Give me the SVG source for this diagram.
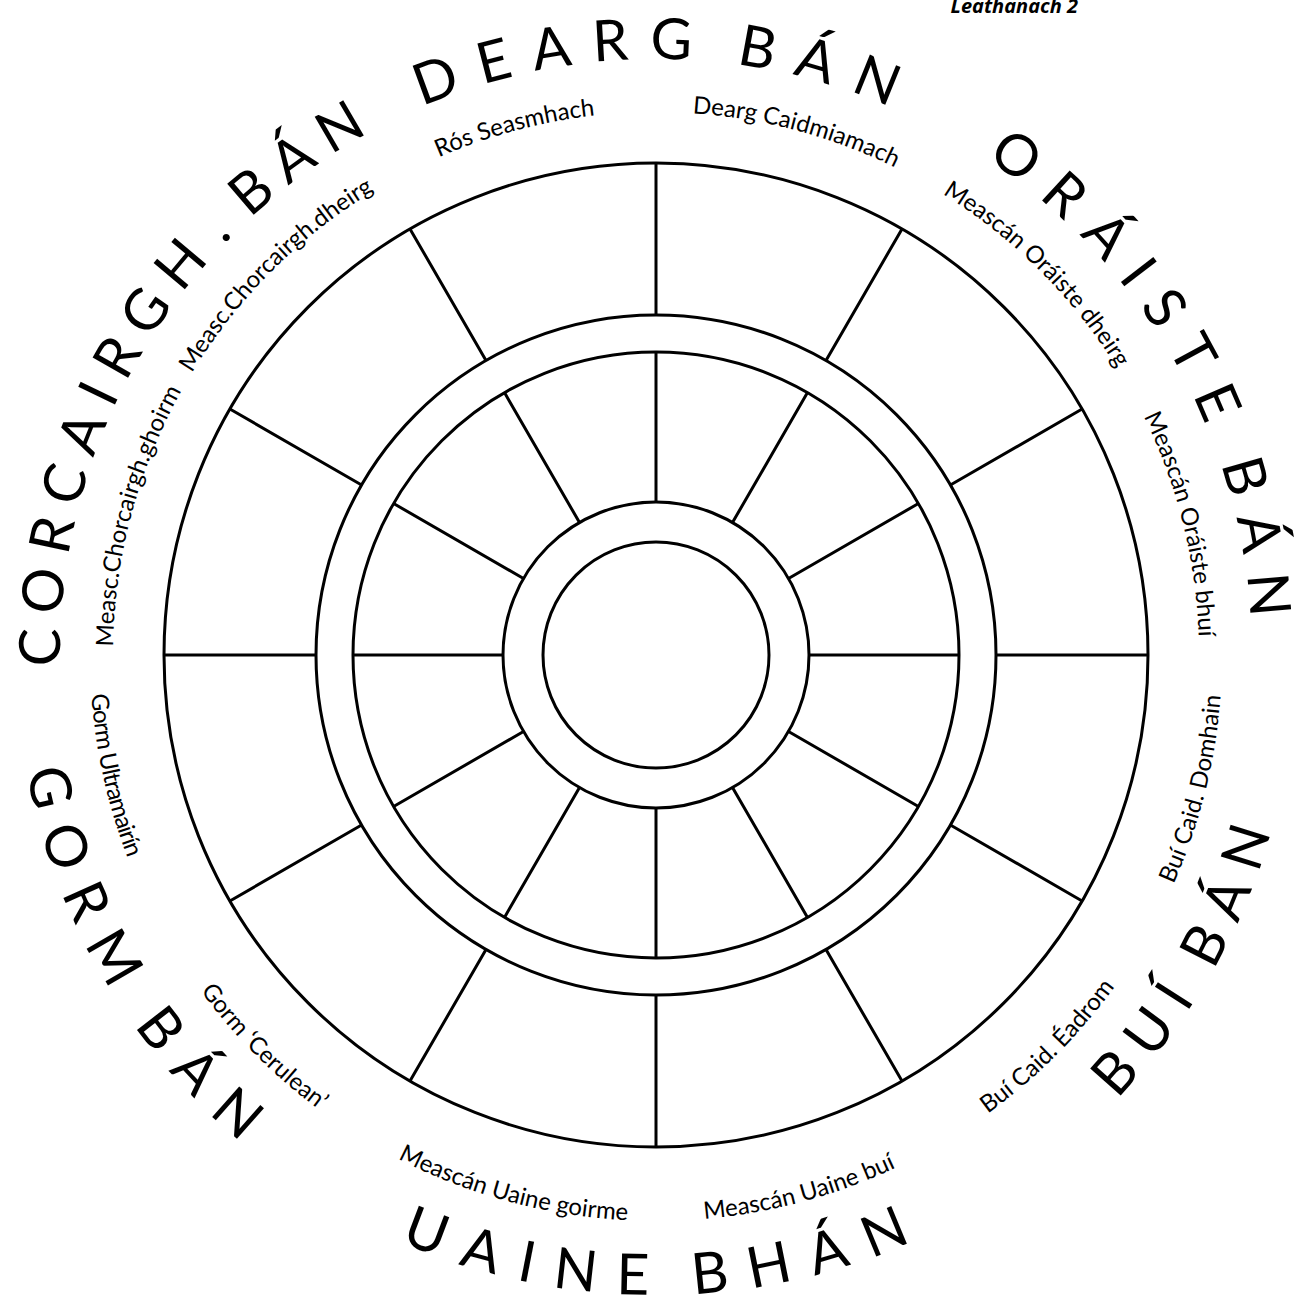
<svg xmlns="http://www.w3.org/2000/svg" xmlns:xlink="http://www.w3.org/1999/xlink" width="1311" height="1301" viewBox="0 0 1311 1301">
<style>
.ring{fill:none;stroke:#000;stroke-width:3}
.sp{stroke:#000;stroke-width:3;fill:none}
.big{font-family:Lato,"Open Sans",sans-serif;font-size:57px;word-spacing:-12px;fill:#000}
.small{font-family:Lato,"Open Sans",sans-serif;font-size:24px;fill:#000}
.hdr{font-family:"Open Sans",sans-serif;font-size:20px;font-weight:bold;font-style:italic;fill:#000}
</style>
<defs>
<path id="pDearg" d="M272.9,198.5 A596,596 0 0 1 656,59 A596,596 0 0 1 1039.1,198.5"/>
<path id="pOraiste" d="M859.8,94.9 A596,596 0 0 1 1172.1,357 A596,596 0 0 1 1242.9,758.5"/>
<path id="pCorc" d="M69.1,758.5 A596,596 0 0 1 139.9,357 A596,596 0 0 1 452.2,94.9"/>
<path id="pBui" d="M874.9,1256.4 A640,640 0 0 0 1210.3,975 A640,640 0 0 0 1286.3,543.9"/>
<path id="pUaine" d="M244.6,1145.2 A640,640 0 0 0 656,1295 A640,640 0 0 0 1067.4,1145.2"/>
<path id="pGorm" d="M25.7,543.9 A640,640 0 0 0 101.7,975 A640,640 0 0 0 437.1,1256.4"/>
<path id="sRos" d="M344.5,210.2 A543,543 0 0 1 515.5,130.5 A543,543 0 0 1 703.3,114.1"/>
<path id="sDearg" d="M608.7,114.1 A543,543 0 0 1 796.5,130.5 A543,543 0 0 1 967.5,210.2"/>
<path id="sOrD" d="M885.5,162.9 A543,543 0 0 1 1040,271 A543,543 0 0 1 1148.1,425.5"/>
<path id="sOrB" d="M1106.1,351.4 A543,543 0 0 1 1182.9,523.6 A543,543 0 0 1 1196,711.7"/>
<path id="sChG" d="M115.1,702.3 A543,543 0 0 1 131.5,514.5 A543,543 0 0 1 211.2,343.5"/>
<path id="sChD" d="M163.9,425.5 A543,543 0 0 1 272,271 A543,543 0 0 1 426.5,162.9"/>
<path id="sBuiD" d="M1125.2,971.5 A566,566 0 0 0 1205.2,791.9 A566,566 0 0 0 1218.9,595.9"/>
<path id="sBuiE" d="M895.2,1168 A566,566 0 0 0 1056.2,1055.2 A566,566 0 0 0 1169,894.2"/>
<path id="sUaB" d="M606.6,1218.8 A566,566 0 0 0 802.5,1201.7 A566,566 0 0 0 980.7,1118.7"/>
<path id="sUaG" d="M331.3,1118.7 A566,566 0 0 0 509.5,1201.7 A566,566 0 0 0 705.4,1218.8"/>
<path id="sCer" d="M143,894.2 A566,566 0 0 0 255.8,1055.2 A566,566 0 0 0 416.8,1168"/>
<path id="sUlt" d="M94.9,581.1 A566,566 0 0 0 103.4,777.5 A566,566 0 0 0 178.6,959.1"/>
</defs>
<rect width="1311" height="1301" fill="#fff"/>
<g id="wheel">
<circle class="ring" cx="656" cy="655" r="492"/>
<circle class="ring" cx="656" cy="655" r="340"/>
<circle class="ring" cx="656" cy="655" r="303"/>
<circle class="ring" cx="656" cy="655" r="153"/>
<circle class="ring" cx="656" cy="655" r="113"/>
</g>
<g id="spokes">
<path class="sp" d="M656,315L656,163M826,360.6L902,228.9M950.4,485L1082.1,409M996,655L1148,655M950.4,825L1082.1,901M826,949.4L902,1081.1M656,995L656,1147M486,949.4L410,1081.1M361.6,825L229.9,901M316,655L164,655M361.6,485L229.9,409M486,360.6L410,228.9"/>
<path class="sp" d="M656,502L656,352M732.5,522.5L807.5,392.6M788.5,578.5L918.4,503.5M809,655L959,655M788.5,731.5L918.4,806.5M732.5,787.5L807.5,917.4M656,808L656,958M579.5,787.5L504.5,917.4M523.5,731.5L393.6,806.5M503,655L353,655M523.5,578.5L393.6,503.5M579.5,522.5L504.5,392.6"/>
</g>
<g id="labels-primary">
<text class="big" style="letter-spacing:21px"><textPath href="#pDearg" xlink:href="#pDearg" startOffset="426.6" text-anchor="middle">DEARG BÁN</textPath></text>
<text class="big" style="letter-spacing:19.5px"><textPath href="#pOraiste" xlink:href="#pOraiste" startOffset="425.9" text-anchor="middle">ORÁISTE BÁN</textPath></text>
<text class="big" style="letter-spacing:16px"><textPath href="#pBui" xlink:href="#pBui" startOffset="454.8" text-anchor="middle">BUÍ BÁN</textPath></text>
<text class="big" style="letter-spacing:21px"><textPath href="#pUaine" xlink:href="#pUaine" startOffset="457.3" text-anchor="middle">UAINE BHÁN</textPath></text>
<text class="big" style="letter-spacing:20px"><textPath href="#pGorm" xlink:href="#pGorm" startOffset="456.8" text-anchor="middle">GORM BÁN</textPath></text>
<text class="big" style="letter-spacing:14px"><textPath href="#pCorc" xlink:href="#pCorc" startOffset="423.1" text-anchor="middle">CORCAIRGH<tspan dx="7">.</tspan><tspan dx="-7"> BÁN</tspan></textPath></text>
</g>
<g id="labels-mixes">
<text class="small"><textPath href="#sRos" xlink:href="#sRos" startOffset="189.5" text-anchor="middle">Rós Seasmhach</textPath></text>
<text class="small"><textPath href="#sDearg" xlink:href="#sDearg" startOffset="189.5" text-anchor="middle">Dearg Caidmiamach</textPath></text>
<text class="small"><textPath href="#sOrD" xlink:href="#sOrD" startOffset="189.5" text-anchor="middle">Meascán Oráiste dheirg</textPath></text>
<text class="small"><textPath href="#sOrB" xlink:href="#sOrB" startOffset="189.5" text-anchor="middle">Meascán Oráiste bhuí</textPath></text>
<text class="small"><textPath href="#sBuiD" xlink:href="#sBuiD" startOffset="197.6" text-anchor="middle">Buí Caid. Domhain</textPath></text>
<text class="small"><textPath href="#sBuiE" xlink:href="#sBuiE" startOffset="197.6" text-anchor="middle">Buí Caid. Éadrom</textPath></text>
<text class="small"><textPath href="#sUaB" xlink:href="#sUaB" startOffset="197.6" text-anchor="middle">Meascán Uaine buí</textPath></text>
<text class="small"><textPath href="#sUaG" xlink:href="#sUaG" startOffset="197.6" text-anchor="middle">Meascán Uaine goirme</textPath></text>
<text class="small"><textPath href="#sCer" xlink:href="#sCer" startOffset="197.6" text-anchor="middle">Gorm ‘Cerulean’</textPath></text>
<text class="small" style="letter-spacing:-1px"><textPath href="#sUlt" xlink:href="#sUlt" startOffset="197.1" text-anchor="middle">Gorm Ultramairín</textPath></text>
<text class="small"><textPath href="#sChG" xlink:href="#sChG" startOffset="189.5" text-anchor="middle">Measc.Chorcairgh.ghoirm</textPath></text>
<text class="small"><textPath href="#sChD" xlink:href="#sChD" startOffset="189.5" text-anchor="middle">Measc.Chorcairgh.dheirg</textPath></text>
</g>
<g id="header">
<text class="hdr" x="1078" y="13" text-anchor="end">Leathanach 2</text>
</g>
</svg>
